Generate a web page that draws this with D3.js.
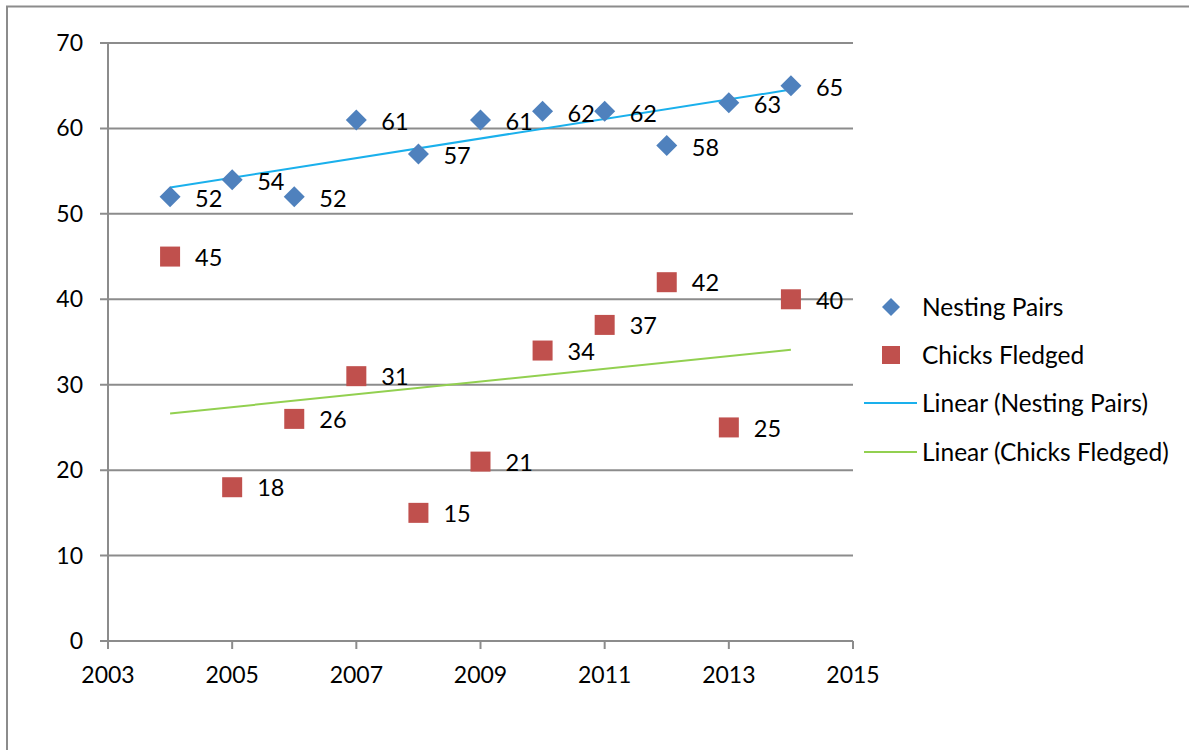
<!DOCTYPE html>
<html>
<head>
<meta charset="utf-8">
<script src="https://cdn.jsdelivr.net/npm/d3@7"></script>
<style>
  html, body { margin: 0; padding: 0; background: #fff; }
  svg { display: block; font-family: Lato, "Open Sans", sans-serif; }
</style>
</head>
<body>
<svg id="chart" width="1189" height="750"></svg>
<script>
const years = [2004, 2005, 2006, 2007, 2008, 2009, 2010, 2011, 2012, 2013, 2014];
const nestingPairs = [52, 54, 52, 61, 57, 61, 62, 62, 58, 63, 65];
const chicksFledged = [45, 18, 26, 31, 15, 21, 34, 37, 42, 25, 40];
const xTicks = [2003, 2005, 2007, 2009, 2011, 2013, 2015];
const yTicks = [0, 10, 20, 30, 40, 50, 60, 70];
const seriesNames = ["Nesting Pairs", "Chicks Fledged", "Linear (Nesting Pairs)", "Linear (Chicks Fledged)"];

const FS = 23;
const svg = d3.select("#chart");

// outer frame (top + left visible)
svg.append("path").attr("d", "M7,760 L7,6.5 L1200,6.5")
  .attr("fill", "none").attr("stroke", "#8c8c8c").attr("stroke-width", 2);

const x = d3.scaleLinear().domain([2003, 2015]).range([108, 853]);
const y = d3.scaleLinear().domain([0, 70]).range([641, 43]);

// gridlines + y ticks
const gy = svg.append("g");
gy.selectAll("line").data(yTicks).join("line")
  .attr("x1", 100).attr("x2", 853)
  .attr("y1", d => y(d)).attr("y2", d => y(d))
  .attr("stroke", "#8c8c8c").attr("stroke-width", 2);
gy.selectAll("text").data(yTicks).join("text")
  .attr("x", 83).attr("y", d => y(d)).attr("dy", "0.35em")
  .attr("text-anchor", "end").attr("font-size", FS).attr("fill", "#000")
  .text(d => d);

// y axis line
svg.append("line").attr("x1", 108).attr("x2", 108).attr("y1", 43).attr("y2", 649)
  .attr("stroke", "#8c8c8c").attr("stroke-width", 2);

// x ticks
const gx = svg.append("g");
gx.selectAll("line").data(xTicks).join("line")
  .attr("x1", d => x(d)).attr("x2", d => x(d)).attr("y1", 641).attr("y2", 649)
  .attr("stroke", "#8c8c8c").attr("stroke-width", 2);
gx.selectAll("text").data(xTicks).join("text")
  .attr("x", d => x(d)).attr("y", 683)
  .attr("text-anchor", "middle").attr("font-size", FS).attr("fill", "#000")
  .text(d => d);

// linear trendlines (least squares fit of each series)
function fit(xs, ys) {
  const mx = d3.mean(xs), my = d3.mean(ys);
  const sxy = d3.sum(xs, (v, i) => (v - mx) * (ys[i] - my));
  const sxx = d3.sum(xs, v => (v - mx) * (v - mx));
  const b = sxy / sxx, a = my - b * mx;
  return v => a + b * v;
}
const xExt = d3.extent(years);
[[nestingPairs, "#1ab0ec"], [chicksFledged, "#92d050"]].forEach(([vals, col]) => {
  const f = fit(years, vals);
  svg.append("line")
    .attr("x1", x(xExt[0])).attr("y1", y(f(xExt[0])))
    .attr("x2", x(xExt[1])).attr("y2", y(f(xExt[1])))
    .attr("stroke", col).attr("stroke-width", 2);
});

const diamond = s => `M0,${-s} L${s},0 L0,${s} L${-s},0 Z`;
const blue = "#4f81bd", red = "#c0504d";

// nesting pairs
const np = years.map((yr, i) => ({ yr, v: nestingPairs[i] }));
svg.append("g").selectAll("path").data(np).join("path")
  .attr("transform", d => `translate(${x(d.yr)},${y(d.v)})`)
  .attr("d", diamond(10.5)).attr("fill", blue);
svg.append("g").selectAll("text").data(np).join("text")
  .attr("x", d => x(d.yr) + 25).attr("y", d => y(d.v) + 2).attr("dy", "0.35em")
  .attr("font-size", FS + 0.5).attr("fill", "#000").text(d => d.v);

// chicks fledged
const cf = years.map((yr, i) => ({ yr, v: chicksFledged[i] }));
svg.append("g").selectAll("rect").data(cf).join("rect")
  .attr("x", d => x(d.yr) - 10).attr("y", d => y(d.v) - 10)
  .attr("width", 20).attr("height", 20).attr("fill", red);
svg.append("g").selectAll("text").data(cf).join("text")
  .attr("x", d => x(d.yr) + 25).attr("y", d => y(d.v) + 1).attr("dy", "0.35em")
  .attr("font-size", FS + 0.5).attr("fill", "#000").text(d => d.v);

// legend
const lg = svg.append("g");
const rowsY = [307, 355, 403, 452];
lg.append("path").attr("transform", `translate(891,${rowsY[0]})`).attr("d", diamond(9)).attr("fill", blue);
lg.append("rect").attr("x", 882).attr("y", rowsY[1] - 9).attr("width", 18).attr("height", 18).attr("fill", red);
lg.append("line").attr("x1", 864).attr("x2", 917).attr("y1", rowsY[2]).attr("y2", rowsY[2]).attr("stroke", "#1ab0ec").attr("stroke-width", 2);
lg.append("line").attr("x1", 864).attr("x2", 917).attr("y1", rowsY[3]).attr("y2", rowsY[3]).attr("stroke", "#92d050").attr("stroke-width", 2);
lg.selectAll("text").data(seriesNames).join("text")
  .attr("x", 922).attr("y", (d, i) => rowsY[i]).attr("dy", "0.35em")
  .attr("font-size", 24.5).attr("fill", "#000").text(d => d);
</script>
</body>
</html>
